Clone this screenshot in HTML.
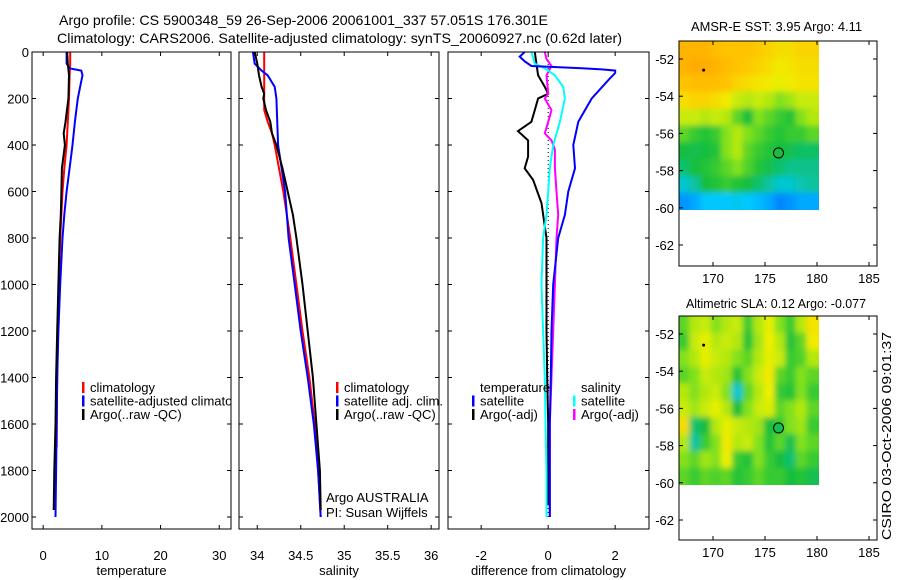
<!DOCTYPE html>
<html><head><meta charset="utf-8"><style>
html,body{margin:0;padding:0;background:#fff;}
svg{display:block;font-family:"Liberation Sans",sans-serif;}
text{font-size:13px;fill:#000;}
</style></head><body>
<svg id="chart" width="900" height="580" viewBox="0 0 900 580">
<defs>
<filter id="blur" x="-5%" y="-5%" width="110%" height="110%"><feGaussianBlur stdDeviation="3"/></filter>
<clipPath id="clip1"><rect x="679" y="41" width="140" height="169"/></clipPath>
<clipPath id="clip2"><rect x="679" y="316" width="140" height="169"/></clipPath>
<clipPath id="clipP1"><rect x="32" y="40" width="199" height="500"/></clipPath>
</defs>
<text x="59" y="25" textLength="489" lengthAdjust="spacingAndGlyphs" style="font-size:14px">Argo profile: CS 5900348_59 26-Sep-2006 20061001_337 57.051S 176.301E</text>
<text x="57" y="43" textLength="565" lengthAdjust="spacingAndGlyphs" style="font-size:14px">Climatology: CARS2006. Satellite-adjusted climatology: synTS_20060927.nc (0.62d later)</text>
<text x="691" y="31" textLength="171" lengthAdjust="spacingAndGlyphs">AMSR-E SST: 3.95 Argo: 4.11</text>
<text x="686" y="308" textLength="180" lengthAdjust="spacingAndGlyphs">Altimetric SLA: 0.12 Argo: -0.077</text>
<text transform="translate(891,540) rotate(-90)" textLength="208" lengthAdjust="spacingAndGlyphs">CSIRO 03-Oct-2006 09:01:37</text>
<g id="plots"></g>
</svg>
<script>
// ---- data ----
const tempClimDepth=[0,50,100,200,300,400,500,600,700,800,1000,1200,1400,1600,1700];
const tempClim=[4.6,4.6,4.5,4.4,4.2,4.0,3.6,3.3,3.1,2.9,2.7,2.5,2.4,2.3,2.3];
const tempSatDepth=[0,50,70,80,100,150,200,300,400,500,600,700,800,1000,1200,1400,1600,1800,2000];
const tempSat=[4.0,4.0,4.5,6.5,6.7,6.3,5.9,5.4,5.0,4.5,4.0,3.6,3.3,2.9,2.6,2.4,2.3,2.2,2.1];
const tempArgoDepth=[0,50,100,200,300,350,400,500,600,700,800,1000,1200,1400,1600,1800,1970];
const tempArgo=[4.1,4.2,4.4,4.3,3.8,3.5,3.7,3.2,3.1,3.0,2.8,2.6,2.4,2.2,2.1,1.9,1.8];
const salClimDepth=[0,100,200,250,300,350,400,500,600,700,800,1000,1200,1400,1600,1800,2000];
const salClim=[34.08,34.08,34.08,34.08,34.12,34.17,34.2,34.25,34.3,34.34,34.38,34.45,34.52,34.6,34.66,34.7,34.73];
const salSatDepth=[0,50,80,100,150,200,400,600,800,1000,1200,1400,1600,1800,2000];
const salSat=[33.95,33.97,34.05,34.12,34.2,34.22,34.24,34.32,34.36,34.43,34.5,34.58,34.65,34.7,34.73];
const salArgoDepth=[0,50,100,150,180,200,250,300,350,400,500,600,700,800,1000,1200,1400,1600,1800,1970];
const salArgo=[33.97,34.0,34.02,34.05,34.08,34.07,34.1,34.15,34.17,34.22,34.29,34.35,34.41,34.45,34.52,34.58,34.64,34.68,34.72,34.73];
const dTSatDepth=[0,20,40,60,70,75,80,90,120,200,300,400,500,600,700,800,1000,1200,1400,1600,2000];
const dTSat=[-0.7,-0.85,-0.7,-0.5,1.0,1.6,2.0,2.0,1.8,1.3,0.9,0.75,0.8,0.6,0.5,0.3,0.15,0.1,0.08,0.05,0.05];
const dSSatDepth=[0,50,70,100,150,200,300,400,500,600,700,800,1000,1200,1400,1600,1800,2000];
const dSSat=[-0.5,-0.4,-0.1,0.2,0.45,0.5,0.35,0.15,0.05,0,-0.05,-0.15,-0.2,-0.15,-0.1,-0.08,-0.05,-0.05];
const dTArgoDepth=[0,50,100,150,180,200,250,300,340,380,450,500,550,650,750,800,1000,1200,1400,1600,1950];
const dTArgo=[-0.4,-0.35,-0.3,-0.1,0,-0.3,-0.4,-0.5,-0.9,-0.6,-0.6,-0.7,-0.45,-0.2,-0.1,-0.05,-0.05,-0.05,-0.03,0,0];
const dSArgoDepth=[0,30,60,100,180,200,250,300,350,380,420,500,600,700,800,1000,1200,1400,1600,2000];
const dSArgo=[-0.1,-0.05,0.1,-0.05,0,-0.1,0.1,0,-0.1,0.1,0.2,0.2,0.25,0.3,0.25,0.2,0.15,0.1,0.05,0.05];
const depthTicks=[0,200,400,600,800,1000,1200,1400,1600,1800,2000];
const tempTicks=[0,10,20,30];
const salTicks=[34,34.5,35,35.5,36];
const diffTicks=[-2,0,2];
const lonTicks=[170,175,180,185];
const latTicks=[-52,-54,-56,-58,-60,-62];
const sstGrid=[
[.85,.85,.85,.82,.8,.8,.8,.78,.75,.72,.72,.75,.75],
[.85,.88,.88,.85,.82,.8,.78,.75,.72,.68,.7,.72,.72],
[.8,.82,.82,.82,.8,.75,.72,.7,.68,.65,.68,.7,.7],
[.72,.75,.75,.72,.68,.62,.6,.62,.6,.55,.58,.62,.62],
[.62,.62,.6,.62,.6,.5,.4,.55,.5,.45,.42,.55,.6],
[.5,.45,.42,.45,.55,.6,.55,.5,.45,.42,.45,.45,.5],
[.4,.38,.4,.42,.55,.6,.5,.45,.42,.4,.38,.36,.36],
[.35,.4,.42,.45,.5,.55,.48,.42,.38,.35,.32,.32,.32],
[.25,.3,.4,.42,.45,.42,.4,.35,.3,.25,.25,.28,.3],
[.12,.15,.2,.2,.2,.22,.2,.18,.15,.1,.12,.15,.15]];
const slaGrid=[
[.5,.6,.62,.55,.6,.62,.45,.6,.65,.55,.45,.6,.7],
[.45,.62,.65,.6,.62,.6,.42,.58,.66,.6,.42,.5,.68],
[.55,.6,.65,.62,.6,.55,.5,.6,.65,.62,.45,.48,.6],
[.5,.55,.62,.6,.58,.42,.55,.62,.68,.5,.45,.55,.5],
[.6,.55,.6,.62,.55,.25,.5,.6,.66,.45,.42,.55,.45],
[.62,.58,.62,.65,.6,.4,.55,.62,.64,.5,.55,.6,.5],
[.72,.35,.4,.6,.65,.62,.6,.58,.4,.45,.55,.58,.45],
[.6,.3,.45,.55,.68,.6,.62,.55,.42,.5,.38,.55,.5],
[.55,.5,.58,.55,.66,.45,.42,.55,.45,.4,.35,.5,.45],
[.5,.45,.5,.48,.5,.42,.45,.5,.45,.45,.4,.42,.38]];
// ---- helpers ----
const NS='http://www.w3.org/2000/svg';
const root=document.getElementById('plots');
function mk(tag,attrs,parent){const e=document.createElementNS(NS,tag);for(const k in attrs)e.setAttribute(k,attrs[k]);(parent||root).appendChild(e);return e;}
const yD=d=>52+d*0.2325;
function profilePanel(name,x0,x1,vmin,vmax,ticks,xlabel,series,showDepth){
  const g=mk('g',{});
  
  
  const sx=v=>x0+(v-vmin)/(vmax-vmin)*(x1-x0);
  series.forEach(s=>{
    const pts=s.d.map((d,i)=>sx(s.v[i]).toFixed(1)+','+yD(d).toFixed(1)).join(' ');
    const p=mk('polyline',{points:pts,fill:'none',stroke:s.c,'stroke-width':s.w||2,'stroke-dasharray':s.dash||'none'},g);
    
    
  });
  mk('rect',{x:x0,y:52,width:x1-x0,height:477,fill:'none',stroke:'#000','stroke-width':1},g);
  ticks.forEach(t=>{const x=sx(t);
    mk('line',{x1:x,x2:x,y1:529,y2:525,stroke:'#000'},g);mk('line',{x1:x,x2:x,y1:52,y2:56,stroke:'#000'},g);
    const tx=mk('text',{x:x,y:560,'text-anchor':'middle'},g);tx.textContent=t;
    
    });
  depthTicks.forEach(d=>{const y=yD(d);
    mk('line',{x1:x0,x2:x0+4,y1:y,y2:y,stroke:'#000'},g);mk('line',{x1:x1,x2:x1-4,y1:y,y2:y,stroke:'#000'},g);
    if(showDepth){const tx=mk('text',{x:29,y:y+5,'text-anchor':'end'},g);tx.textContent=d;
      
      }});
  const xl=mk('text',{x:(x0+x1)/2,y:575,'text-anchor':'middle'},g);xl.textContent=xlabel;
  
  
  return sx;
}
function legend(x,y,items,clip){
  const g=mk('g',clip?{'clip-path':'url(#'+clip+')'}:{});
  items.forEach((it,i)=>{
    const yy=y+i*13.5;
    if(it.c){const b=mk('rect',{x:x,y:yy-10,width:2.5,height:11,fill:it.c},g);
      
      }
    const t=mk('text',{x:x+8,y:yy},g);t.textContent=it.t;
    
    
  });
}
profilePanel('temperature-panel',32,231,-1.9,32,tempTicks,'temperature',[
 {n:'temp-climatology-line',d:tempClimDepth,v:tempClim,c:'#f00'},
 {n:'temp-satellite-line',d:tempSatDepth,v:tempSat,c:'#00f'},
 {n:'temp-argo-line',d:tempArgoDepth,v:tempArgo,c:'#000'}],true);
profilePanel('salinity-panel',239,439,33.79,36.09,salTicks,'salinity',[
 {n:'sal-climatology-line',d:salClimDepth,v:salClim,c:'#f00'},
 {n:'sal-satellite-line',d:salSatDepth,v:salSat,c:'#00f'},
 {n:'sal-argo-line',d:salArgoDepth,v:salArgo,c:'#000'}],false);
profilePanel('difference-panel',448,649,-2.99,3.01,diffTicks,'difference from climatology',[
 {n:'zero-reference-line',d:[0,2000],v:[0,0],c:'#000',w:1,dash:'1,3'},
 {n:'temp-argo-diff-line',d:dTArgoDepth,v:dTArgo,c:'#000'},
 {n:'sal-argo-diff-line',d:dSArgoDepth,v:dSArgo,c:'#f0f'},
 {n:'sal-satellite-diff-line',d:dSSatDepth,v:dSSat,c:'#0ff'},
 {n:'temp-satellite-diff-line',d:dTSatDepth,v:dTSat,c:'#00f'}],false);
legend(82,392,[{t:'climatology',c:'#f00'},{t:'satellite-adjusted climatology',c:'#00f'},{t:'Argo(..raw -QC)',c:'#000'}],'clipP1');
legend(336,392,[{t:'climatology',c:'#f00'},{t:'satellite adj. clim.',c:'#00f'},{t:'Argo(..raw -QC)',c:'#000'}]);
legend(472,392,[{t:'temperature'},{t:'satellite',c:'#00f'},{t:'Argo(-adj)',c:'#000'}]);
legend(573,392,[{t:'salinity'},{t:'satellite',c:'#0ff'},{t:'Argo(-adj)',c:'#f0f'}]);
const a1=mk('text',{x:326,y:502});a1.textContent='Argo AUSTRALIA';


const a2=mk('text',{x:326,y:517});a2.textContent='PI: Susan Wijffels';


// colormap
const cstops=[[0,[0,70,255]],[.2,[0,200,255]],[.4,[20,190,60]],[.55,[130,225,30]],[.66,[240,240,0]],[.8,[255,195,0]],[.92,[255,160,0]]];
function cmap(v){for(let i=1;i<cstops.length;i++){if(v<=cstops[i][0]){const a=cstops[i-1],b=cstops[i];const f=(v-a[0])/(b[0]-a[0]);return 'rgb('+a[1].map((c,k)=>Math.round(c+(b[1][k]-c)*f)).join(',')+')';}}return 'rgb(255,160,0)';}
function mapPanel(name,top,bottom,grid,argoFill,clip){
  const g=mk('g',{});
  
  
  const x0=679,x1=877;
  const sx=l=>713+(l-170)*10.4;
  const lat52=top+18, k=18.6;
  const sy=la=>lat52+(-52-la)*k;
  const latTop=-52+(lat52-top)/k;
  const rows=grid.length,cols=grid[0].length;
  const lonA=166.7,lonB=180,latB=-60.1;
  const cw=(sx(lonB)-sx(lonA))/cols, ch=(sy(latB)-sy(latTop))/rows;
  const cg=mk('g',{'clip-path':'url(#'+clip+')'},g);
  const bg=mk('g',{filter:'url(#blur)'},cg);
  grid.forEach((row,r)=>row.forEach((v,c)=>{
    let x=sx(lonA)+c*cw, y=sy(latTop)+r*ch, w=cw+0.6, h=ch+0.6;
    if(c===0){x-=8;w+=8;} if(c===cols-1){w+=8;} if(r===0){y-=8;h+=8;} if(r===rows-1){h+=8;}
    const cell=mk('rect',{x:x.toFixed(2),y:y.toFixed(2),width:w.toFixed(2),height:h.toFixed(2),fill:cmap(v)},bg);
    
    
  }));
  const fl=mk('circle',{cx:sx(176.3),cy:sy(-57.05),r:5,fill:argoFill,stroke:'#000','stroke-width':1},g);
  
  
  mk('circle',{cx:sx(169.1),cy:sy(-52.6),r:1.5,fill:'#000'},g);
  mk('rect',{x:x0,y:top,width:x1-x0,height:bottom-top,fill:'none',stroke:'#000'},g);
  lonTicks.forEach(l=>{const x=sx(l);
    mk('line',{x1:x,x2:x,y1:bottom,y2:bottom-4,stroke:'#000'},g);mk('line',{x1:x,x2:x,y1:top,y2:top+4,stroke:'#000'},g);
    const t=mk('text',{x:x,y:bottom+17,'text-anchor':'middle'},g);t.textContent=l;
    
    });
  latTicks.forEach(la=>{const y=sy(la);
    mk('line',{x1:x0,x2:x0+4,y1:y,y2:y,stroke:'#000'},g);mk('line',{x1:x1,x2:x1-4,y1:y,y2:y,stroke:'#000'},g);
    const t=mk('text',{x:674,y:y+5,'text-anchor':'end'},g);t.textContent=la;
    
    });
}
mapPanel('sst-map',41,266,sstGrid,'none','clip1');
mapPanel('sla-map',316,540,slaGrid,'rgb(20,190,80)','clip2');
</script>
</body></html>
